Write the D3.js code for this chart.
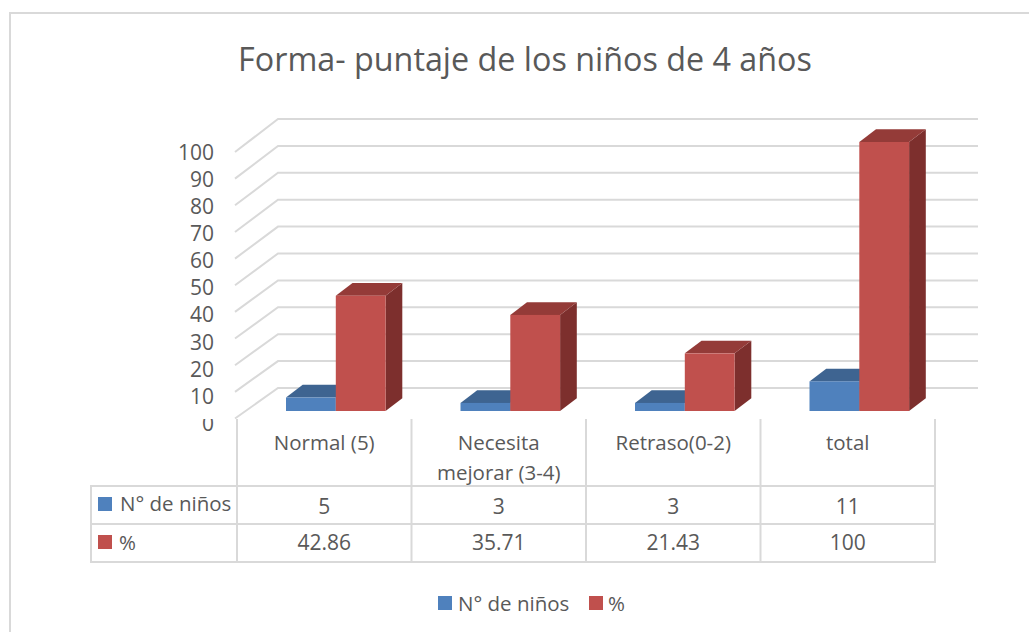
<!DOCTYPE html>
<html><head><meta charset="utf-8">
<script src="https://cdn.jsdelivr.net/npm/d3@7"></script>
<style>html,body{margin:0;padding:0;background:#fff}svg{display:block}text{font-family:"Open Sans",sans-serif;fill:#595959}</style>
</head><body><svg id="c" width="1029" height="632"></svg>
<script>
const categories = ["Normal (5)", "Necesita mejorar (3-4)", "Retraso(0-2)", "total"];
const seriesNames = ["N° de niños", "%"];
const ninos = [5, 3, 3, 11];
const pct = [42.86, 35.71, 21.43, 100];
const tableLabels = [["5","3","3","11"],["42.86","35.71","21.43","100"]];
const yTicks = [0,10,20,30,40,50,60,70,80,90,100];
const colors = ["#4f81bd","#c0504d"], tops = ["#3e6491","#943b38"], sides = ["#365a85","#7d2f2d"];

const svg = d3.select("#c");
const grid = "#d9d9d9";
svg.append("path").attr("d","M10,640V13H1040").attr("fill","none").attr("stroke",grid).attr("stroke-width",2);

svg.append("text").attr("x",525).attr("y",71).attr("text-anchor","middle").style("font-size","32.3px").text("Forma- puntaje de los niños de 4 años");

const x = d3.scaleBand().domain(categories).range([237,935]);
const yFront = d3.scaleLinear().domain([0,100]).range([418.5,152]);
const yBack = d3.scaleLinear().domain([0,100]).range([388,119]);
const yBar = d3.scaleLinear().domain([0,100]).range([411,142]);
const yLabel = d3.scaleLinear().domain([0,100]).range([431,159.5]);

yTicks.forEach(t=>{
  svg.append("path").attr("d",`M235,${yFront(t)}L278,${yBack(t)}H978`).attr("fill","none").attr("stroke",grid).attr("stroke-width",2);
});

svg.append("clipPath").attr("id","zero").append("rect").attr("x",150).attr("y",419).attr("width",80).attr("height",30);
yTicks.forEach(t=>{
  svg.append("text").attr("x",214).attr("y",yLabel(t)).attr("text-anchor","end")
   .attr("clip-path",t===0?"url(#zero)":null).style("font-size","21px").text(t);
});

const bw = 49.8, ddx = 16.7, ddy = 12.7;
const barLeft = (c,i)=> x(c)+49+i*bw;
function bar(c,v,i){
  const l=barLeft(c,i), r=l+bw, b=yBar(0), t=yBar(v);
  const g=svg.append("g");
  g.append("path").attr("d",`M${r},${b}L${r+ddx},${b-ddy}V${t-ddy}L${r},${t}Z`).attr("fill",sides[i]);
  g.append("path").attr("d",`M${l},${t}L${l+ddx},${t-ddy}H${r+ddx}L${r},${t}Z`).attr("fill",tops[i]);
  g.append("rect").attr("x",l).attr("y",t).attr("width",bw).attr("height",b-t).attr("fill",colors[i]);
}
categories.forEach((c,k)=>{ bar(c,ninos[k],0); bar(c,pct[k],1); });

const rows=[486,524,562], left=91, tw=2;
rows.forEach(y=>svg.append("line").attr("x1",left-1).attr("x2",936).attr("y1",y).attr("y2",y).attr("stroke",grid).attr("stroke-width",tw));
svg.append("line").attr("x1",left).attr("x2",left).attr("y1",486).attr("y2",562).attr("stroke",grid).attr("stroke-width",tw);
x.domain().forEach(c=>svg.append("line").attr("x1",x(c)).attr("x2",x(c)).attr("y1",419).attr("y2",562).attr("stroke",grid).attr("stroke-width",tw));
svg.append("line").attr("x1",935).attr("x2",935).attr("y1",419).attr("y2",562).attr("stroke",grid).attr("stroke-width",tw);

const cx=c=>x(c)+x.bandwidth()/2;
[["Normal (5)"],["Necesita","mejorar (3-4)"],["Retraso(0-2)"],["total"]].forEach((lines,k)=>{
  lines.forEach((s,j)=>svg.append("text").attr("x",cx(categories[k])).attr("y",450+j*30).attr("text-anchor","middle").style("font-size","20.5px").text(s));
});
tableLabels.forEach((row,r)=>{
  row.forEach((s,k)=>svg.append("text").attr("x",cx(categories[k])).attr("y",[514,550][r]).attr("text-anchor","middle").style("font-size","21px").text(s));
  svg.append("rect").attr("x",98).attr("y",[497,535][r]).attr("width",14).attr("height",14).attr("fill",colors[r]);
  svg.append("text").attr("x",[120,119][r]).attr("y",[511,550][r]).style("font-size","20.5px").text(seriesNames[r]);
});

[[438,458],[589,608]].forEach((p,i)=>{
  svg.append("rect").attr("x",p[0]).attr("y",596).attr("width",14).attr("height",14).attr("fill",colors[i]);
  svg.append("text").attr("x",p[1]).attr("y",611).style("font-size","20.5px").text(seriesNames[i]);
});
</script></body></html>
